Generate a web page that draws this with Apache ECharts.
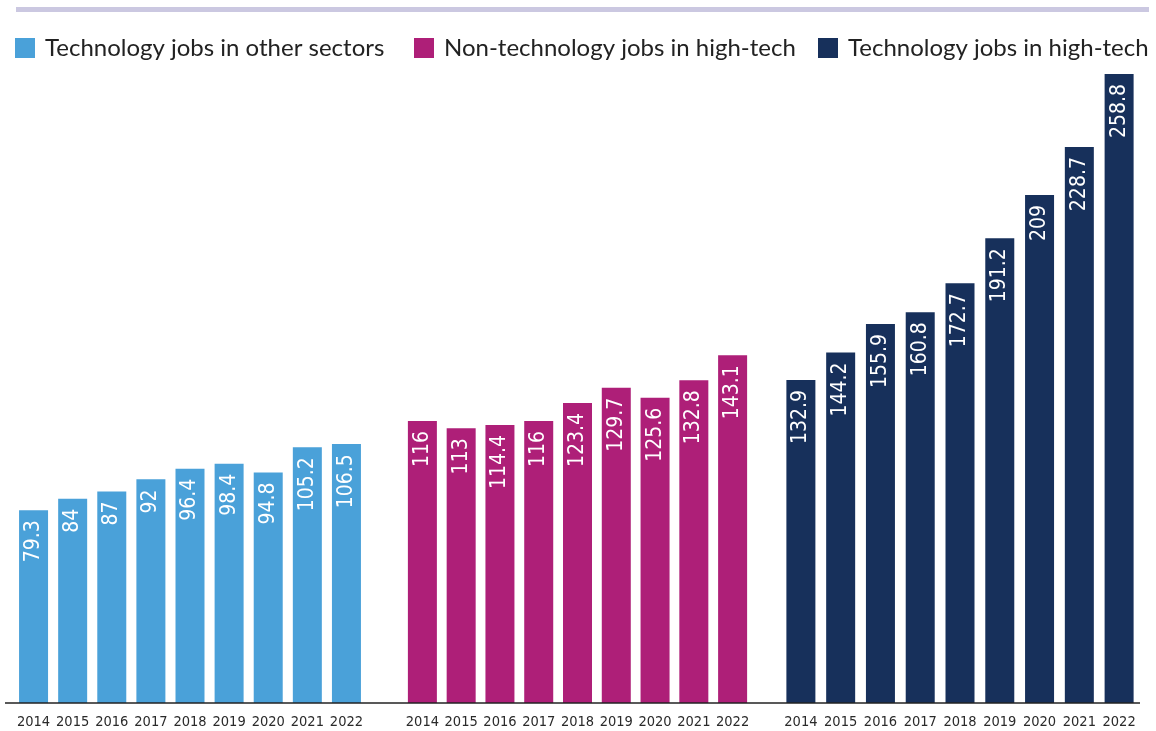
<!DOCTYPE html>
<html>
<head>
<meta charset="utf-8">
<script src="https://cdn.jsdelivr.net/npm/echarts@6/dist/echarts.min.js"></script>
<style>html,body{margin:0;padding:0;background:#fff;}#c{width:1156px;height:731px;}</style>
</head>
<body>
<div id="c"></div>
<script>
const years = ['2014','2015','2016','2017','2018','2019','2020','2021','2022'];
const seriesNames = ['Technology jobs in other sectors','Non-technology jobs in high-tech','Technology jobs in high-tech'];
const otherSectors = [79.3, 84, 87, 92, 96.4, 98.4, 94.8, 105.2, 106.5];
const nonTechHighTech = [116, 113, 114.4, 116, 123.4, 129.7, 125.6, 132.8, 143.1];
const techHighTech = [132.9, 144.2, 155.9, 160.8, 172.7, 191.2, 209, 228.7, 258.8];
const colors = ['#4aa1d9', '#ae1f78', '#17305b'];

const narrow = '"Liberation Sans Narrow", "Arial Narrow", "DejaVu Sans Condensed", sans-serif';
const allData = [otherSectors, nonTechHighTech, techHighTech];
const grids = [
  {left: 14, width: 352, top: 71, bottom: 28},
  {left: 403, width: 349, top: 71, bottom: 28},
  {left: 781, width: 358, top: 71, bottom: 28}
];
const legendLeft = [15, 414, 818];

const chart = echarts.init(document.getElementById('c'), null, {renderer: 'canvas'});
chart.setOption({
  animation: false,
  backgroundColor: '#fff',
  grid: grids,
  legend: seriesNames.map((n, i) => ({
    data: [n], left: legendLeft[i], top: 36, padding: 0, icon: 'rect', itemWidth: 20, itemHeight: 20, itemGap: 10,
    textStyle: {fontSize: 24, color: '#222', fontFamily: 'Lato, sans-serif', padding: [0,0,0,5]}
  })),
  xAxis: grids.map((g, i) => ({
    type: 'category', gridIndex: i, data: years,
    axisLine: {show: false}, axisTick: {show: false},
    axisLabel: {interval: 0, fontSize: 14.5, color: '#2a2a2a', margin: 12, fontFamily: narrow}
  })),
  yAxis: grids.map((g, i) => ({
    type: 'value', gridIndex: i, min: 0, max: 260, show: false
  })),
  graphic: [
    {type: 'rect', shape: {x: 16, y: 7, width: 1133, height: 5}, style: {fill: '#cbc8e1'}, silent: true},
    {type: 'line', shape: {x1: 5, y1: 703, x2: 1140, y2: 703}, style: {stroke: '#222', lineWidth: 1.5}, silent: true, z: 10}
  ],
  series: seriesNames.map((n, i) => ({
    name: n, type: 'bar', xAxisIndex: i, yAxisIndex: i, data: allData[i],
    barWidth: 29, itemStyle: {color: colors[i]},
    label: {
      show: true, position: 'insideTop', rotate: 90, align: 'right', verticalAlign: 'middle',
      distance: 10, color: '#fff', fontSize: 21, fontFamily: narrow
    }
  }))
});
</script>
</body>
</html>
